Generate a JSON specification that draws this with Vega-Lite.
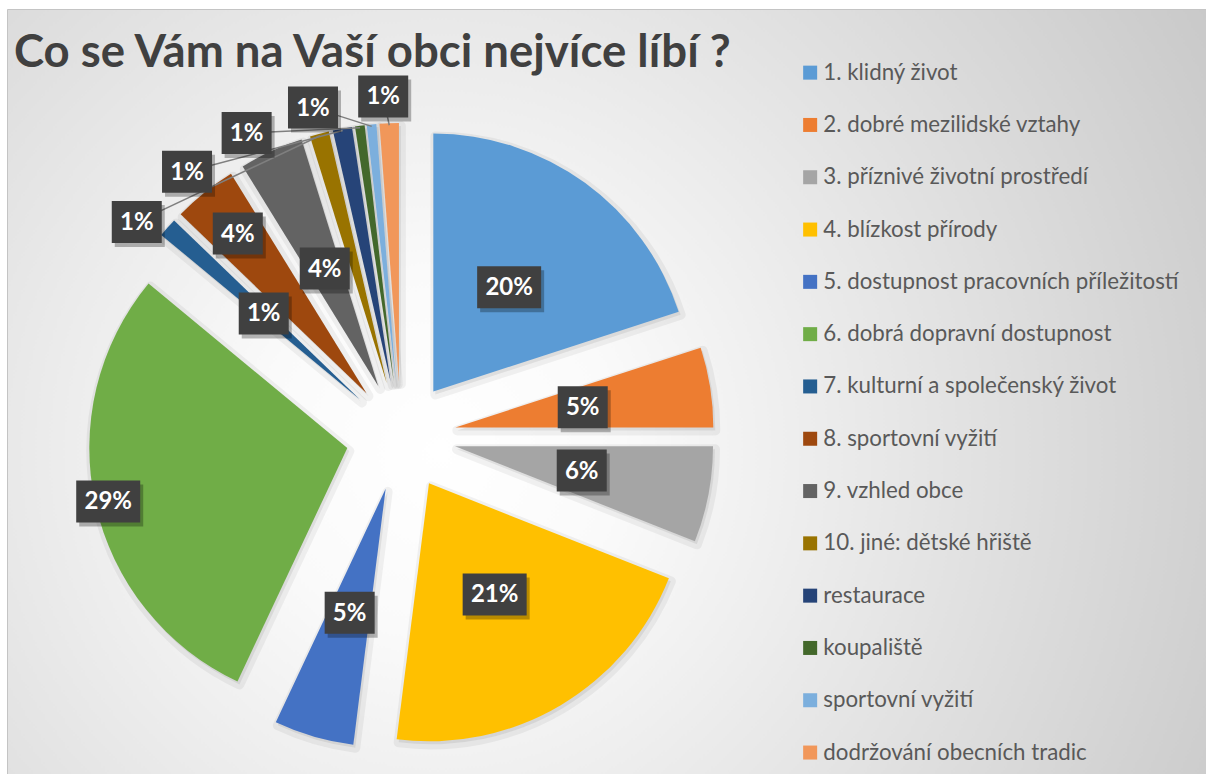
{
  "$schema": "https://vega.github.io/schema/vega-lite/v6.json",
  "width": 1199,
  "height": 765,
  "autosize": "none",
  "padding": {"left": 7, "top": 9, "right": 0, "bottom": 0},
  "background": "#ffffff",
  "config": {
    "view": {
      "stroke": "#c4c4c4",
      "strokeWidth": 1,
      "fill": {
        "gradient": "radial",
        "x1": 0.36, "y1": 0.55, "r1": 0,
        "x2": 0.36, "y2": 0.55, "r2": 0.75,
        "stops": [
          {"offset": 0, "color": "#ffffff"},
          {"offset": 0.2, "color": "#fafafa"},
          {"offset": 0.55, "color": "#e4e4e4"},
          {"offset": 1, "color": "#c8c8c8"}
        ]
      }
    }
  },
  "title": {
    "text": "Co se Vám na Vaší obci nejvíce líbí ?",
    "anchor": "start",
    "frame": "group",
    "orient": "top",
    "font": "Lato",
    "fontSize": 45.5,
    "fontWeight": "bold",
    "color": "#404040",
    "baseline": "alphabetic",
    "offset": 0,
    "dx": 7,
    "dy": 103
  },
  "params": [
    {"name": "cx", "expr": "width * 0.3286"},
    {"name": "cy", "expr": "height * 0.5582"}
  ],
  "data": {
    "values": [
      {"idx": 1, "cat": "1. klidný život", "share": 0.20},
      {"idx": 2, "cat": "2. dobré mezilidské vztahy", "share": 0.05},
      {"idx": 3, "cat": "3. příznivé životní prostředí", "share": 0.06},
      {"idx": 4, "cat": "4. blízkost přírody", "share": 0.21},
      {"idx": 5, "cat": "5. dostupnost pracovních příležitostí", "share": 0.05},
      {"idx": 6, "cat": "6. dobrá dopravní dostupnost", "share": 0.29},
      {"idx": 7, "cat": "7. kulturní a společenský život", "share": 0.012},
      {"idx": 8, "cat": "8. sportovní vyžití", "share": 0.04},
      {"idx": 9, "cat": "9. vzhled obce", "share": 0.04},
      {"idx": 10, "cat": "10. jiné: dětské hřiště", "share": 0.012},
      {"idx": 11, "cat": "restaurace", "share": 0.012},
      {"idx": 12, "cat": "koupaliště", "share": 0.006},
      {"idx": 13, "cat": "sportovní vyžití", "share": 0.006},
      {"idx": 14, "cat": "dodržování obecních tradic", "share": 0.012}
    ]
  },
  "transform": [
    {"stack": "share", "groupby": [], "sort": [{"field": "idx", "order": "ascending"}], "as": ["s0", "s1"]}
  ],
  "layer": [
    {
      "mark": {
        "type": "arc",
        "radius": 258,
        "fill": "#000000",
        "fillOpacity": 0.07,
        "stroke": "#000000",
        "strokeOpacity": 0.05,
        "strokeWidth": 10,
        "strokeJoin": "round",
        "x": {"expr": "cx + 2 + 55 * sin((datum.s0 + datum.s1) * PI)"},
        "y": {"expr": "cy + 3 - 55 * cos((datum.s0 + datum.s1) * PI)"}
      },
      "encoding": {
        "theta": {"field": "s0", "type": "quantitative", "stack": null, "scale": {"domain": [0, 1]}},
        "theta2": {"field": "s1"}
      }
    },
    {
      "mark": {
        "type": "arc",
        "radius": 258,
        "x": {"expr": "cx + 55 * sin((datum.s0 + datum.s1) * PI)"},
        "y": {"expr": "cy - 55 * cos((datum.s0 + datum.s1) * PI)"}
      },
      "encoding": {
        "theta": {"field": "s0", "type": "quantitative", "stack": null, "scale": {"domain": [0, 1]}},
        "theta2": {"field": "s1"},
        "color": {
          "field": "cat",
          "type": "nominal",
          "scale": {
            "domain": ["1. klidný život", "2. dobré mezilidské vztahy", "3. příznivé životní prostředí", "4. blízkost přírody", "5. dostupnost pracovních příležitostí", "6. dobrá dopravní dostupnost", "7. kulturní a společenský život", "8. sportovní vyžití", "9. vzhled obce", "10. jiné: dětské hřiště", "restaurace", "koupaliště", "sportovní vyžití", "dodržování obecních tradic"],
            "range": ["#5B9BD5", "#ED7D31", "#A5A5A5", "#FFC000", "#4472C4", "#70AD47", "#255E91", "#9E480E", "#636363", "#997300", "#264478", "#43682B", "#7CAFDD", "#F1975A"]
          },
          "legend": {
            "orient": "none",
            "legendX": 792,
            "legendY": 52.5,
            "title": null,
            "padding": 0,
            "symbolType": "square",
            "symbolSize": 196,
            "symbolStrokeWidth": 0,
            "labelFont": "Lato",
            "labelFontSize": 22.3,
            "labelColor": "#595959",
            "labelOffset": 2,
            "labelLimit": 420,
            "rowPadding": 29.3
          }
        }
      }
    },
    {
      "transform": [{"filter": "datum.idx >= 10"}],
      "mark": {"type": "rule", "color": "#7f7f7f", "strokeWidth": 1.5},
      "encoding": {
        "x": {"value": {"expr": "cx + 340 * sin((357 - (14 - datum.idx) * 12) * PI / 180)"}},
        "y": {"value": {"expr": "cy - 340 * cos((357 - (14 - datum.idx) * 12) * PI / 180)"}},
        "x2": {"value": {"expr": "cx + 311 * sin((datum.s0 + datum.s1) * PI)"}},
        "y2": {"value": {"expr": "cy - 311 * cos((datum.s0 + datum.s1) * PI)"}}
      }
    },
    {
      "mark": {
        "type": "point",
        "filled": true,
        "color": "#000000",
        "opacity": 0.28,
        "x": {"expr": "cx + 3 + (datum.idx >= 10 ? 340 : datum.share >= 0.25 ? 300 : datum.share >= 0.05 ? 184 : datum.idx % 2 == 0 ? 260 : 184) * sin(datum.idx >= 10 ? (357 - (14 - datum.idx) * 12) * PI / 180 : (datum.s0 + datum.s1) * PI)"},
        "y": {"expr": "cy + 4 - (datum.idx >= 10 ? 340 : datum.share >= 0.25 ? 300 : datum.share >= 0.05 ? 184 : datum.idx % 2 == 0 ? 260 : 184) * cos(datum.idx >= 10 ? (357 - (14 - datum.idx) * 12) * PI / 180 : (datum.s0 + datum.s1) * PI)"}
      },
      "encoding": {
        "shape": {"condition": {"test": "datum.share >= 0.095", "value": "M-1,-0.656H1V0.656H-1Z"}, "value": "M-1,-0.84H1V0.84H-1Z"},
        "size": {"condition": {"test": "datum.share >= 0.095", "value": 4096}, "value": 2500}
      }
    },
    {
      "mark": {
        "type": "point",
        "filled": true,
        "color": "#404040",
        "opacity": 1,
        "x": {"expr": "cx + (datum.idx >= 10 ? 340 : datum.share >= 0.25 ? 300 : datum.share >= 0.05 ? 184 : datum.idx % 2 == 0 ? 260 : 184) * sin(datum.idx >= 10 ? (357 - (14 - datum.idx) * 12) * PI / 180 : (datum.s0 + datum.s1) * PI)"},
        "y": {"expr": "cy - (datum.idx >= 10 ? 340 : datum.share >= 0.25 ? 300 : datum.share >= 0.05 ? 184 : datum.idx % 2 == 0 ? 260 : 184) * cos(datum.idx >= 10 ? (357 - (14 - datum.idx) * 12) * PI / 180 : (datum.s0 + datum.s1) * PI)"}
      },
      "encoding": {
        "shape": {"condition": {"test": "datum.share >= 0.095", "value": "M-1,-0.656H1V0.656H-1Z"}, "value": "M-1,-0.84H1V0.84H-1Z"},
        "size": {"condition": {"test": "datum.share >= 0.095", "value": 4096}, "value": 2500}
      }
    },
    {
      "mark": {
        "type": "text",
        "font": "Lato",
        "fontSize": 24,
        "fontWeight": "bold",
        "color": "#ffffff",
        "align": "center",
        "baseline": "middle",
        "dy": 1,
        "x": {"expr": "cx + (datum.idx >= 10 ? 340 : datum.share >= 0.25 ? 300 : datum.share >= 0.05 ? 184 : datum.idx % 2 == 0 ? 260 : 184) * sin(datum.idx >= 10 ? (357 - (14 - datum.idx) * 12) * PI / 180 : (datum.s0 + datum.s1) * PI)"},
        "y": {"expr": "cy - (datum.idx >= 10 ? 340 : datum.share >= 0.25 ? 300 : datum.share >= 0.05 ? 184 : datum.idx % 2 == 0 ? 260 : 184) * cos(datum.idx >= 10 ? (357 - (14 - datum.idx) * 12) * PI / 180 : (datum.s0 + datum.s1) * PI)"}
      },
      "encoding": {
        "text": {"field": "share", "type": "quantitative", "format": ".0%"}
      }
    }
  ]
}
